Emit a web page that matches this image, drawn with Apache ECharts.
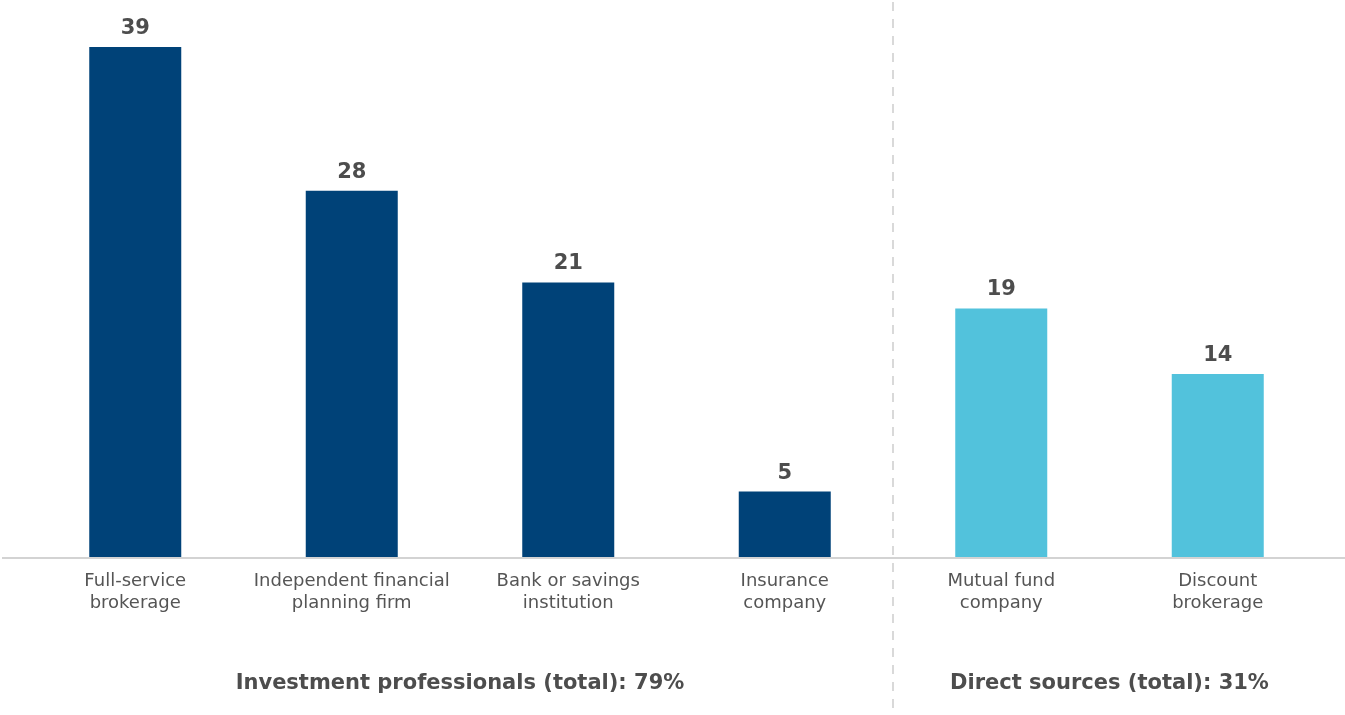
<!DOCTYPE html>
<html>
<head>
<meta charset="utf-8">
<script src="https://cdn.jsdelivr.net/npm/echarts@6/dist/echarts.min.js"></script>
<style>
  html, body { margin: 0; padding: 0; background: #fff; }
  #chart { width: 1345px; height: 715px; }
</style>
</head>
<body>
<div id="chart"></div>
<script>
// Where people hold their investments (% of respondents)
const categories = [
  'Full-service\nbrokerage',
  'Independent financial\nplanning firm',
  'Bank or savings\ninstitution',
  'Insurance\ncompany',
  'Mutual fund\ncompany',
  'Discount\nbrokerage'
];
const values = [39, 28, 21, 5, 19, 14];
// group index per category: 0 = investment professionals, 1 = direct sources
const groupOf = [0, 0, 0, 0, 1, 1];
const groupLabels = [
  'Investment professionals (total): 79%',
  'Direct sources (total): 31%'
];
const groupColors = ['#004278', '#52c2dc'];

const FONT = '"DejaVu Sans", "Open Sans", sans-serif';
const chart = echarts.init(document.getElementById('chart'));

chart.setOption({
  animation: false,
  grid: { left: 27, right: 19, top: 47, bottom: 158 },
  xAxis: {
    type: 'category',
    data: categories,
    axisLine: { show: false },
    axisTick: { show: false },
    axisLabel: {
      margin: 13,
      color: '#555555',
      fontFamily: FONT,
      fontSize: 18,
      lineHeight: 22,
      interval: 0
    }
  },
  yAxis: {
    type: 'value',
    min: 0,
    max: 39,
    show: false,
    splitLine: { show: false }
  },
  series: [{
    type: 'bar',
    barWidth: 92,
    data: values.map((v, i) => ({
      value: v,
      itemStyle: { color: groupColors[groupOf[i]] }
    })),
    label: {
      show: true,
      position: 'top',
      distance: 8,
      color: '#4d4d4d',
      fontFamily: FONT,
      fontWeight: 'bold',
      fontSize: 21
    }
  }]
});

// Baseline, group divider and group captions, placed from the axis scales
function px(i, v) { return chart.convertToPixel({ seriesIndex: 0 }, [i, v]); }
const base = px(0, 0)[1];
const x3 = px(3, 0)[0], x4 = px(4, 0)[0];
const divX = (x3 + x4) / 2;
const g0 = (px(0, 0)[0] + px(3, 0)[0]) / 2;
const g1 = (px(4, 0)[0] + px(5, 0)[0]) / 2;

chart.setOption({
  graphic: [
    {
      type: 'line',
      shape: { x1: 2, y1: base + 1, x2: 1345, y2: base + 1 },
      style: { stroke: '#d3d3d3', lineWidth: 2 },
      z: 10
    },
    {
      type: 'line',
      shape: { x1: divX, y1: 2, x2: divX, y2: 715 },
      style: { stroke: '#d9d9d9', lineWidth: 2, lineDash: [9, 8] },
      z: 10
    },
    {
      type: 'text',
      x: g0, y: 684,
      style: {
        text: groupLabels[0], fill: '#4d4d4d', fontFamily: FONT,
        fontWeight: 'bold', fontSize: 21, align: 'center', verticalAlign: 'middle'
      }
    },
    {
      type: 'text',
      x: g1, y: 684,
      style: {
        text: groupLabels[1], fill: '#4d4d4d', fontFamily: FONT,
        fontWeight: 'bold', fontSize: 21, align: 'center', verticalAlign: 'middle'
      }
    }
  ]
});
</script>
</body>
</html>
